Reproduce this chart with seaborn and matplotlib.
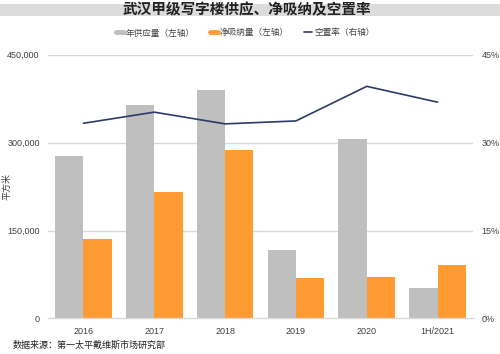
import numpy as np
import pandas as pd
import matplotlib
matplotlib.use("Agg")
import matplotlib.pyplot as plt
from matplotlib.lines import Line2D
from matplotlib.patches import Rectangle
from matplotlib.ticker import FuncFormatter, FixedLocator
import seaborn as sns

categories = ["2016", "2017", "2018", "2019", "2020", "1H/2021"]
supply = [278000, 365000, 389000, 116000, 306000, 52000]
absorption = [135000, 215000, 288000, 69000, 71000, 92000]
vacancy = [33.3, 35.2, 33.2, 33.7, 39.6, 36.9]
series_names = ["年供应量（左轴）", "净吸纳量（左轴）", "空置率（右轴）"]
left_ticks = [0, 150000, 300000, 450000]
right_ticks = [0, 15, 30, 45]

sns.set_theme(style="white")
plt.rcParams["font.family"] = ["Liberation Sans", "Noto Sans CJK SC", "DejaVu Sans"]

df = pd.DataFrame({
    "cat": categories * 2,
    "val": supply + absorption,
    "series": [series_names[0]] * len(categories) + [series_names[1]] * len(categories),
})
gray = "#BFBFBF"
orange = "#FF9B33"
navy = "#2E3A6B"
grid_c = "#D9D9D9"
txt_c = "#404040"

fig = plt.figure(figsize=(5.0, 3.54), dpi=100)
fig.patches.append(Rectangle((0, 1 - 15.5 / 354), 1, 11.5 / 354, transform=fig.transFigure,
                             facecolor="#DCDCDC", edgecolor="none", zorder=0))
ax = fig.add_axes([0.096, 0.1003, 0.85, 0.7452])
sns.barplot(data=df, x="cat", y="val", hue="series", palette=[gray, orange],
            order=categories, width=0.8, saturation=1, ax=ax, legend=False,
            linewidth=0, edgecolor="none")
ax.set_xlim(-0.5, len(categories) - 0.5)
ax.set_ylim(0, 450000)
ax.yaxis.set_major_locator(FixedLocator(left_ticks))
ax.yaxis.set_major_formatter(FuncFormatter(lambda v, p: f"{int(v):,}"))
for y in left_ticks[1:]:
    ax.axhline(y, color=grid_c, lw=1, zorder=0)
ax.set_axisbelow(True)
for s in ["top", "right", "left"]:
    ax.spines[s].set_visible(False)
ax.spines["bottom"].set_color(grid_c)
ax.spines["bottom"].set_linewidth(1)
ax.tick_params(axis="both", length=0, labelsize=6.5, colors=txt_c, pad=6)
ax.set_xlabel("")
ax.set_ylabel("平方米", fontsize=6.5, color=txt_c)
ax.yaxis.set_label_coords(-0.085, 0.5)

ax2 = ax.twinx()
vdf = pd.DataFrame({"cat": categories, "vac": vacancy})
sns.lineplot(data=vdf, x="cat", y="vac", color=navy, lw=1.2, sort=False, ax=ax2)
ax2.set_ylim(0, 45)
ax2.yaxis.set_major_locator(FixedLocator(right_ticks))
ax2.yaxis.set_major_formatter(FuncFormatter(lambda v, p: f"{int(v)}%"))
for s in ["top", "right", "left", "bottom"]:
    ax2.spines[s].set_visible(False)
ax2.tick_params(axis="y", length=0, labelsize=6.5, colors=txt_c, pad=6)
ax2.set_ylabel("")
ax2.set_xlabel("")
ax.set_xlim(-0.5, len(categories) - 0.5)

fig.text(0.493, 1 - 10 / 354, "武汉甲级写字楼供应、净吸纳及空置率", ha="center", va="center",
         fontsize=10.5, fontweight="bold", color="#222222")
handles = [Line2D([0], [0], color=gray, lw=3.5),
           Line2D([0], [0], color=orange, lw=3.5),
           Line2D([0], [0], color=navy, lw=1.2)]
fig.legend(handles, series_names, loc="center", bbox_to_anchor=(0.49, 1 - 33 / 354), ncol=3,
           frameon=False, fontsize=6.2, handlelength=1.0, handletextpad=0.2, columnspacing=1.7,
           labelcolor=txt_c)
fig.text(0.026, 1 - 345 / 354, "数据来源：第一太平戴维斯市场研究部", ha="left", va="center",
         fontsize=6.5, color="#222222")
fig.savefig("out.png", dpi=100)
